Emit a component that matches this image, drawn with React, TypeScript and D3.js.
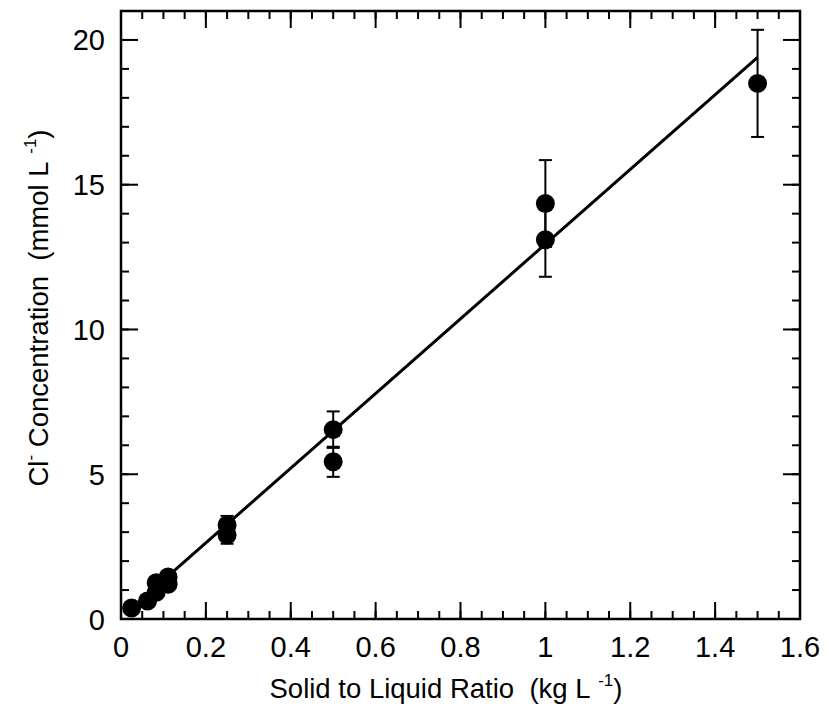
import * as d3 from "d3";

// measured solid-to-liquid ratios (kg/L) and Cl- concentrations (mmol/L)
const ratios = [0.025, 0.0625, 0.083, 0.083, 0.111, 0.111, 0.25, 0.25, 0.5, 0.5, 1.0, 1.0, 1.5];
const chloride = [0.38, 0.62, 1.25, 0.92, 1.45, 1.2, 3.25, 2.9, 6.54, 5.43, 14.35, 13.1, 18.5];
const errors = [0.05, 0.05, 0.1, 0.1, 0.1, 0.1, 0.31, 0.3, 0.63, 0.52, 1.5, 1.28, 1.85];

// linear fit
const fitSlope = 12.9;
const fitIntercept = 0.05;
const fitRange = [0.025, 1.5];

const xTickLabels = ["0", "0.2", "0.4", "0.6", "0.8", "1", "1.2", "1.4", "1.6"];
const yTickLabels = ["0", "5", "10", "15", "20"];

const W = 829;
const H = 722;
const left = 121, right = 800, top = 11, bottom = 619;
const font = "'Liberation Sans', Arial, Helvetica, sans-serif";
const sp2 = "\u00a0\u00a0";

export default function App() {
  const x = d3.scaleLinear().domain([0, 1.6]).range([left, right]);
  const y = d3.scaleLinear().domain([0, 21]).range([bottom, top]);

  const xMinor = d3.range(0, 1.6001, 0.05);
  const xMajor = d3.range(0, 1.6001, 0.2);
  const yMinor = d3.range(0, 21.001, 1);
  const yMajor = d3.range(0, 20.001, 5);

  const line = d3.line<number>().x(d => x(d)).y(d => y(fitIntercept + fitSlope * d));

  const majorLen = 17, minorLen = 8;
  const capW = 6.5;

  return (
    <svg width={W} height={H} style={{ position: "absolute", left: 0, top: 0, background: "#fff" }}>
      <g stroke="#000" strokeWidth={2}>
        {xMinor.map((t, i) => (
          <g key={"xm" + i}>
            <line x1={x(t)} x2={x(t)} y1={bottom} y2={bottom - minorLen} />
            <line x1={x(t)} x2={x(t)} y1={top} y2={top + minorLen} />
          </g>
        ))}
        {xMajor.map((t, i) => (
          <g key={"xM" + i}>
            <line x1={x(t)} x2={x(t)} y1={bottom} y2={bottom - majorLen} />
            <line x1={x(t)} x2={x(t)} y1={top} y2={top + majorLen} />
          </g>
        ))}
        {yMinor.map((t, i) => (
          <g key={"ym" + i}>
            <line x1={left} x2={left + minorLen} y1={y(t)} y2={y(t)} />
            <line x1={right} x2={right - minorLen} y1={y(t)} y2={y(t)} />
          </g>
        ))}
        {yMajor.map((t, i) => (
          <g key={"yM" + i}>
            <line x1={left} x2={left + majorLen} y1={y(t)} y2={y(t)} />
            <line x1={right} x2={right - majorLen} y1={y(t)} y2={y(t)} />
          </g>
        ))}
      </g>
      <rect x={left} y={top} width={right - left} height={bottom - top} fill="none" stroke="#000" strokeWidth={2.5} />

      <g fontFamily={font} fontSize={29} fill="#000">
        {xMajor.map((t, i) => (
          <text key={"xl" + i} x={x(t)} y={bottom + 38} textAnchor="middle">{xTickLabels[i]}</text>
        ))}
        {yMajor.map((t, i) => (
          <text key={"yl" + i} x={left - 16} y={y(t) + 10.5} textAnchor="end">{yTickLabels[i]}</text>
        ))}
      </g>
      <g fontFamily={font} fontSize={27.5} fill="#000">
        <text x={446} y={698} textAnchor="middle">
          {"Solid to Liquid Ratio" + sp2 + "(kg L\u00a0"}<tspan fontSize={17} dy={-12}>-1</tspan><tspan dy={12}>)</tspan>
        </text>
        <text transform={`translate(48, 308) rotate(-90)`} textAnchor="middle">
          Cl<tspan fontSize={17} dy={-12}>-</tspan><tspan dy={12}>{"\u00a0Concentration" + sp2 + "(mmol L\u00a0"}</tspan><tspan fontSize={17} dy={-12}>-1</tspan><tspan dy={12}>)</tspan>
        </text>
      </g>

      <path d={line(fitRange) ?? ""} fill="none" stroke="#000" strokeWidth={3} />

      <g stroke="#000" strokeWidth={2}>
        {ratios.map((r, i) => (
          <g key={"e" + i}>
            <line x1={x(r)} x2={x(r)} y1={y(chloride[i] - errors[i])} y2={y(chloride[i] + errors[i])} />
            <line x1={x(r) - capW} x2={x(r) + capW} y1={y(chloride[i] - errors[i])} y2={y(chloride[i] - errors[i])} />
            <line x1={x(r) - capW} x2={x(r) + capW} y1={y(chloride[i] + errors[i])} y2={y(chloride[i] + errors[i])} />
          </g>
        ))}
      </g>
      <g fill="#000">
        {ratios.map((r, i) => (
          <circle key={"p" + i} cx={x(r)} cy={y(chloride[i])} r={9.5} />
        ))}
      </g>
    </svg>
  );
}
